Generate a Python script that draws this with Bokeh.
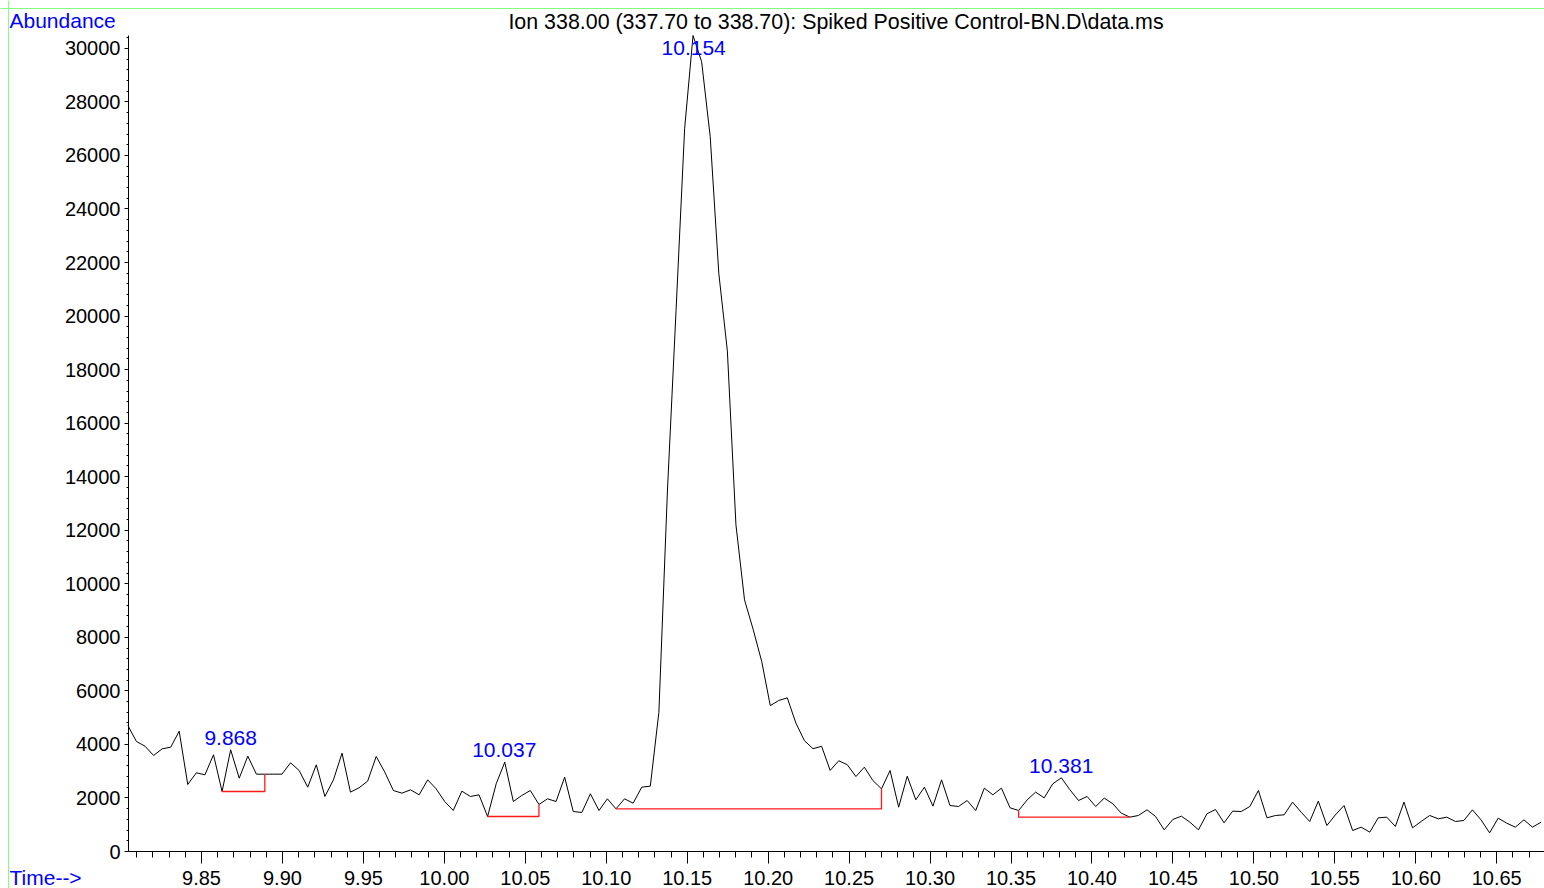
from bokeh.plotting import figure
from bokeh.models import (ColumnDataSource, Label, LabelSet, SingleIntervalTicker,
                          PrintfTickFormatter, Range1d, Span)
from bokeh.core.properties import value
from bokeh.embed import file_html
from bokeh.resources import INLINE

# ---------------- data ----------------
scan_time = [
    9.8045, 9.8098, 9.8151, 9.8204, 9.8257, 9.8310, 9.8362, 9.8415, 9.8468, 9.8521,
    9.8574, 9.8627, 9.8680, 9.8733, 9.8786, 9.8839, 9.8891, 9.8944, 9.8997, 9.9050,
    9.9103, 9.9156, 9.9209, 9.9262, 9.9315, 9.9368, 9.9420, 9.9473, 9.9526, 9.9579,
    9.9632, 9.9685, 9.9738, 9.9791, 9.9844, 9.9897, 9.9949, 10.0002, 10.0055, 10.0108,
    10.0161, 10.0214, 10.0267, 10.0320, 10.0373, 10.0426, 10.0478, 10.0531, 10.0584, 10.0637,
    10.0690, 10.0743, 10.0796, 10.0849, 10.0902, 10.0955, 10.1007, 10.1060, 10.1113, 10.1166,
    10.1219, 10.1272, 10.1325, 10.1378, 10.1431, 10.1484, 10.1536, 10.1589, 10.1642, 10.1695,
    10.1748, 10.1801, 10.1854, 10.1907, 10.1960, 10.2013, 10.2065, 10.2118, 10.2171, 10.2224,
    10.2277, 10.2330, 10.2383, 10.2436, 10.2489, 10.2542, 10.2594, 10.2647, 10.2700, 10.2753,
    10.2806, 10.2859, 10.2912, 10.2965, 10.3018, 10.3071, 10.3123, 10.3176, 10.3229, 10.3282,
    10.3335, 10.3388, 10.3441, 10.3494, 10.3547, 10.3600, 10.3652, 10.3705, 10.3758, 10.3811,
    10.3864, 10.3917, 10.3970, 10.4023, 10.4076, 10.4129, 10.4181, 10.4234, 10.4287, 10.4340,
    10.4393, 10.4446, 10.4499, 10.4552, 10.4605, 10.4658, 10.4710, 10.4763, 10.4816, 10.4869,
    10.4922, 10.4975, 10.5028, 10.5081, 10.5134, 10.5187, 10.5239, 10.5292, 10.5345, 10.5398,
    10.5451, 10.5504, 10.5557, 10.5610, 10.5663, 10.5716, 10.5768, 10.5821, 10.5874, 10.5927,
    10.5980, 10.6033, 10.6086, 10.6139, 10.6192, 10.6245, 10.6297, 10.6350, 10.6403, 10.6456,
    10.6509, 10.6562, 10.6615, 10.6668, 10.6721, 10.6774,
]

abundance = [
    4707, 4109, 3934, 3586, 3836, 3896, 4494, 2503, 2940, 2864,
    3612, 2241, 3798, 2739, 3561, 2889, 2889, 2889, 2889, 3313,
    3026, 2403, 3238, 2055, 2677, 3673, 2217, 2378, 2627, 3549,
    2964, 2279, 2179, 2304, 2117, 2677, 2341, 1868, 1532, 2254,
    2055, 2117, 1307, 2528, 3337, 1868, 2092, 2279, 1756, 1968,
    1868, 2776, 1494, 1457, 2155, 1532, 1968, 1594, 1968, 1805,
    2403, 2440, 5200, 13500, 20200, 27000, 30480, 29500, 26700, 21600,
    18700, 12200, 9400, 8300, 7100, 5450, 5640, 5740, 4800, 4140,
    3840, 3930, 3030, 3390, 3240, 2800, 3150, 2650, 2340, 3026,
    1656, 2814, 1930, 2403, 1694, 2677, 1718, 1681, 1905, 1532,
    2366, 2117, 2366, 1632, 1532, 1930, 2217, 2005, 2528, 2752,
    2304, 1905, 2055, 1681, 1993, 1781, 1432, 1283, 1345, 1557,
    1307, 809, 1195, 1320, 1096, 809, 1407, 1569, 1071, 1507,
    1494, 1681, 2279, 1258, 1345, 1370, 1843, 1469, 1121, 1880,
    971, 1370, 1718, 784, 909, 722, 1258, 1283, 934, 1843,
    884, 1121, 1345, 1220, 1283, 1121, 1158, 1557, 1183, 697,
    1245, 1058, 909, 1183, 909, 1096,
]

peak_rt = [9.868, 10.037, 10.154, 10.381]
peak_text = ["9.868", "10.037", "10.154", "10.381"]
integration_start = [9.8627, 10.0267, 10.1060, 10.3547]
integration_end = [9.8891, 10.0584, 10.2700, 10.4234]

title_text = "Ion 338.00 (337.70 to 338.70): Spiked Positive Control-BN.D\\data.ms"
y_label_text = "Abundance"
x_label_text = "Time-->"

X_AXIS_START = 9.8049      # time at the abundance axis
Y_AXIS_TOP = 30480         # abundance at the top of the abundance axis
X_TICK = 0.05
Y_TICK = 2000

# ---------------- geometry (pixels) ----------------
W, H = 1544, 888
AX_LEFT_PX, AX_TOP_PX, AX_BOTTOM_PX = 128, 35, 851
PX_PER_MIN = 1619.0
PX_PER_AB = (AX_BOTTOM_PX - AX_TOP_PX) / Y_AXIS_TOP
FONT = "Liberation Sans"
BLUE = "#0000ff"

x0 = X_AXIS_START - AX_LEFT_PX / PX_PER_MIN
x1 = X_AXIS_START + (W - AX_LEFT_PX) / PX_PER_MIN
y0 = -(H - AX_BOTTOM_PX) / PX_PER_AB
y1 = Y_AXIS_TOP + AX_TOP_PX / PX_PER_AB

p = figure(width=W, height=H, output_backend="svg", toolbar_location=None,
           x_range=Range1d(x0, x1), y_range=Range1d(y0, y1),
           min_border_left=0, min_border_right=0, min_border_top=0, min_border_bottom=0,
           background_fill_color="white", border_fill_color="white")
p.grid.visible = False
p.outline_line_color = None

xa = p.xaxis[0]
xa.fixed_location = 0
xa.bounds = (X_AXIS_START, x1)
xa.ticker = SingleIntervalTicker(interval=X_TICK, num_minor_ticks=5)
xa.formatter = PrintfTickFormatter(format="%.2f")
xa.major_tick_out = 12
xa.major_tick_in = 0
xa.minor_tick_out = 6
xa.minor_tick_in = 0
xa.major_label_standoff = 7
xa.major_label_text_font = FONT
xa.major_label_text_font_size = "20px"
xa.major_label_text_color = "black"
xa.axis_line_color = "black"
xa.major_tick_line_color = "black"
xa.minor_tick_line_color = "black"

ya = p.yaxis[0]
ya.fixed_location = X_AXIS_START
ya.bounds = (0, Y_AXIS_TOP)
ya.ticker = SingleIntervalTicker(interval=Y_TICK, num_minor_ticks=5)
ya.formatter = PrintfTickFormatter(format="%d")
ya.major_tick_out = 4
ya.major_tick_in = 0
ya.minor_tick_out = 2
ya.minor_tick_in = 0
ya.major_label_standoff = 4
ya.major_label_text_font = FONT
ya.major_label_text_font_size = "20px"
ya.major_label_text_color = "black"
ya.axis_line_color = "black"
ya.major_tick_line_color = "black"
ya.minor_tick_line_color = "black"

# green page frame (left and top edges)
p.add_layout(Span(location=8, location_units="screen", dimension="height",
                  line_color="#80ff80", line_width=1))
p.add_layout(Span(location=H - 8, location_units="screen", dimension="width",
                  line_color="#80ff80", line_width=1))

# chromatogram trace
p.line(scan_time, abundance, line_color="black", line_width=1)

# integration baselines (red)
def nearest_index(t):
    return min(range(len(scan_time)), key=lambda k: abs(scan_time[k] - t))

base_xs, base_ys = [], []
for ts, te in zip(integration_start, integration_end):
    i0, i1 = nearest_index(ts), nearest_index(te)
    v0, v1 = abundance[i0], abundance[i1]
    base = min(v0, v1)
    base_xs.append([scan_time[i0], scan_time[i0], scan_time[i1], scan_time[i1]])
    base_ys.append([v0, base, base, v1])
p.multi_line(base_xs, base_ys, line_color="#ff1a1a", line_width=1.3)

# peak retention time labels (blue), kept inside the axis box
label_y = []
for rt in peak_rt:
    h = abundance[nearest_index(rt)]
    label_y.append(min(h + 12 / PX_PER_AB, Y_AXIS_TOP - 12 / PX_PER_AB))
src = ColumnDataSource(dict(x=peak_rt, y=label_y, text=peak_text))
p.add_layout(LabelSet(x="x", y="y", text="text", source=src,
                      text_align="center", text_baseline="middle",
                      text_color=BLUE, text_font=value(FONT), text_font_size="21px"))

# header / axis captions (screen units from bottom-left of canvas)
p.add_layout(Label(x=9, y=H - 20, x_units="screen", y_units="screen",
                   text=y_label_text, text_color=BLUE, text_font=FONT,
                   text_font_size="21px", text_baseline="middle", text_align="left"))
p.add_layout(Label(x=835.5, y=H - 21.7, x_units="screen", y_units="screen",
                   text=title_text, text_color="black", text_font=FONT,
                   text_font_size="21.4px", text_baseline="middle", text_align="center"))
p.add_layout(Label(x=9, y=H - 877, x_units="screen", y_units="screen",
                   text=x_label_text, text_color=BLUE, text_font=FONT,
                   text_font_size="21px", text_baseline="middle", text_align="left"))

open("out.html", "w").write(file_html(p, INLINE))
